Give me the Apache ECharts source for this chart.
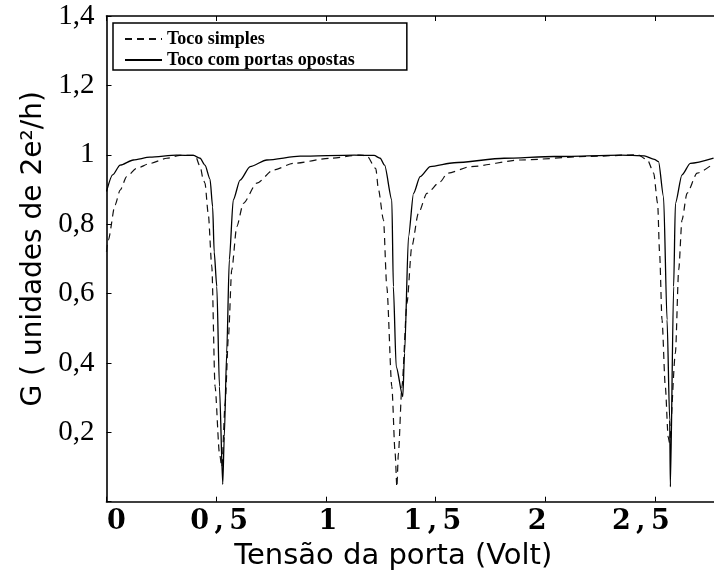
<!DOCTYPE html>
<html>
<head>
<meta charset="utf-8">
<script src="https://cdn.jsdelivr.net/npm/echarts@6/dist/echarts.min.js"></script>
<style>
  html, body { margin: 0; padding: 0; background: #fff; }
  #chart { width: 714px; height: 580px; }
</style>
</head>
<body>
<div id="chart"></div>
<script>
// Condutância G (em unidades de 2e²/h) em função da tensão de porta (V)
const seriesNames = ['Toco simples', 'Toco com portas opostas'];

// Toco simples (tracejado)
const simplesV = [0, 0.008, 0.039, 0.062, 0.092, 0.138, 0.198, 0.275, 0.335, 0.404,
  0.427, 0.442, 0.449, 0.464, 0.480, 0.495, 0.515, 0.526, 0.541, 0.556, 0.571, 0.594,
  0.624, 0.685, 0.761, 0.852, 1.02, 1.156, 1.187, 1.228, 1.24, 1.263, 1.278, 1.301,
  1.316, 1.324, 1.331, 1.347, 1.370, 1.392, 1.422, 1.461, 1.521, 1.555, 1.661, 1.890,
  2.193, 2.422, 2.467, 2.495, 2.513, 2.522, 2.533, 2.548, 2.561, 2.567, 2.594, 2.609,
  2.624, 2.647, 2.693, 2.768];
const simplesG = [0.72, 0.754, 0.855, 0.898, 0.937, 0.961, 0.975, 0.99, 0.998, 0.998,
  0.966, 0.927, 0.918, 0.83, 0.68, 0.332, 0.14, 0.10, 0.284, 0.476, 0.668, 0.793,
  0.86, 0.918, 0.956, 0.975, 0.99, 0.999, 0.997, 0.96, 0.90, 0.812, 0.62, 0.332,
  0.14, 0.043, 0.14, 0.332, 0.572, 0.735, 0.831, 0.889, 0.922, 0.947, 0.966, 0.985,
  0.995, 1.0, 0.985, 0.947, 0.86, 0.716, 0.524, 0.332, 0.187, 0.17, 0.428, 0.668,
  0.812, 0.889, 0.947, 0.975];

// Toco com portas opostas (contínuo)
const opostasV = [0, 0.028, 0.062, 0.122, 0.198, 0.320, 0.396, 0.427, 0.449, 0.472,
  0.484, 0.491, 0.503, 0.515, 0.530, 0.537, 0.548, 0.560, 0.578, 0.609, 0.655, 0.731,
  0.883, 1.129, 1.220, 1.248, 1.268, 1.301, 1.308, 1.321, 1.351, 1.359, 1.377, 1.400,
  1.430, 1.476, 1.585, 1.813, 2.042, 2.346, 2.452, 2.498, 2.517, 2.540, 2.556, 2.568,
  2.571, 2.586, 2.594, 2.624, 2.662, 2.768];
const opostasG = [0.894, 0.942, 0.970, 0.985, 0.993, 0.999, 0.998, 0.990, 0.970, 0.930,
  0.85, 0.72, 0.62, 0.332, 0.05, 0.187, 0.428, 0.697, 0.870, 0.927, 0.966, 0.985,
  0.996, 0.999, 0.998, 0.99, 0.97, 0.87, 0.62, 0.389, 0.303, 0.428, 0.764, 0.889,
  0.937, 0.966, 0.977, 0.99, 0.995, 0.999, 0.997, 0.987, 0.98, 0.879, 0.524, 0.236,
  0.043, 0.62, 0.86, 0.942, 0.975, 0.99];

// Rótulos dos eixos
const xTickValues = [0, 0.5, 1, 1.5, 2, 2.5];
const xTickLabels = ['0', '0,5', '1', '1,5', '2', '2,5'];
const yTickValues = [0, 0.2, 0.4, 0.6, 0.8, 1, 1.2, 1.4];
const yTickLabels = ['', '0,2', '0,4', '0,6', '0,8', '1', '1,2', '1,4'];

// deslocamento horizontal (px) de cada rótulo do eixo x
const xLabelShift = [10, 3, 2, -3, -8, -14];

const pairs = (xs, ys) => xs.map((x, i) => [x, ys[i]]);
const indexOf = (vals, v) => vals.findIndex(t => Math.abs(t - v) < 1e-6);

const xRich = {};
xLabelShift.forEach((d, i) => {
  xRich['l' + i] = {
    fontFamily: 'DejaVu Serif', fontWeight: 'bold', fontSize: 27, color: '#000',
    padding: d >= 0 ? [0, 0, 0, 2 * d] : [0, -2 * d, 0, 0]
  };
});

const axisLineStyle = { color: '#000', width: 1.6 };
const tickStyle = { show: true, inside: true, length: 5, lineStyle: { color: '#000', width: 1 } };
const curveStyle = { showSymbol: false, symbol: 'none', smooth: 0.25, smoothMonotone: 'x' };

const chart = echarts.init(document.getElementById('chart'), null, { renderer: 'canvas' });
chart.setOption({
  backgroundColor: '#fff',
  animation: false,
  grid: { left: 106.5, right: 0, top: 16, bottom: 78.3, containLabel: false },
  legend: {
    left: 113, top: 23,
    orient: 'vertical',
    data: seriesNames,
    itemWidth: 37, itemHeight: 18, itemGap: 3,
    padding: [7, 52, 1, 11],
    borderColor: '#000', borderWidth: 1.5, borderRadius: 0,
    backgroundColor: '#fff',
    itemStyle: { opacity: 0, color: 'transparent', borderWidth: 0 },
    textStyle: { fontFamily: 'Liberation Serif', fontWeight: 'bold', fontSize: 18, color: '#000' }
  },
  xAxis: [{
    type: 'value', min: 0, max: 2.77, interval: 0.5,
    name: 'Tensão da porta (Volt)', nameLocation: 'middle', nameGap: 40,
    nameTextStyle: { fontFamily: 'DejaVu Sans', fontSize: 29, color: '#000', padding: [0, 34, 0, 0] },
    axisLine: { show: true, onZero: false, lineStyle: axisLineStyle },
    axisTick: tickStyle,
    splitLine: { show: false },
    axisLabel: {
      showMinLabel: true, showMaxLabel: false, margin: 7,
      fontFamily: 'DejaVu Serif', fontWeight: 'bold', fontSize: 27, color: '#000',
      rich: xRich,
      formatter: v => {
        const i = indexOf(xTickValues, v);
        if (i < 0) return '';
        const spaced = xTickLabels[i].split('').join('\u2009');
        return '{l' + i + '|' + spaced + '}';
      }
    }
  }, {
    type: 'value', position: 'top', min: 0, max: 2.77, interval: 0.5,
    axisLine: { show: true, onZero: false, lineStyle: axisLineStyle },
    axisTick: tickStyle,
    axisLabel: { show: false },
    splitLine: { show: false }
  }],
  yAxis: {
    type: 'value', min: 0, max: 1.4, interval: 0.2,
    name: 'G ( unidades de 2e²/h)', nameLocation: 'middle', nameGap: 56, nameRotate: 90,
    nameTextStyle: { fontFamily: 'DejaVu Sans', fontSize: 28, color: '#000', padding: [0, 0, 0, 20] },
    axisLine: { show: true, onZero: false, lineStyle: axisLineStyle },
    axisTick: tickStyle,
    splitLine: { show: false },
    axisLabel: {
      showMinLabel: true, showMaxLabel: true, margin: 12,
      fontFamily: 'Liberation Serif', fontSize: 29, color: '#000',
      formatter: v => {
        const i = indexOf(yTickValues, v);
        return i >= 0 ? yTickLabels[i] : '';
      }
    }
  },
  series: [Object.assign({
    name: seriesNames[0], type: 'line', xAxisIndex: 0,
    data: pairs(simplesV, simplesG),
    lineStyle: { color: '#111', width: 1.2, type: [7, 5] },
    itemStyle: { color: '#111' }
  }, curveStyle), Object.assign({
    name: seriesNames[1], type: 'line', xAxisIndex: 0,
    data: pairs(opostasV, opostasG),
    lineStyle: { color: '#000', width: 1.3, type: 'solid' },
    itemStyle: { color: '#000' }
  }, curveStyle)]
});
</script>
</body>
</html>
